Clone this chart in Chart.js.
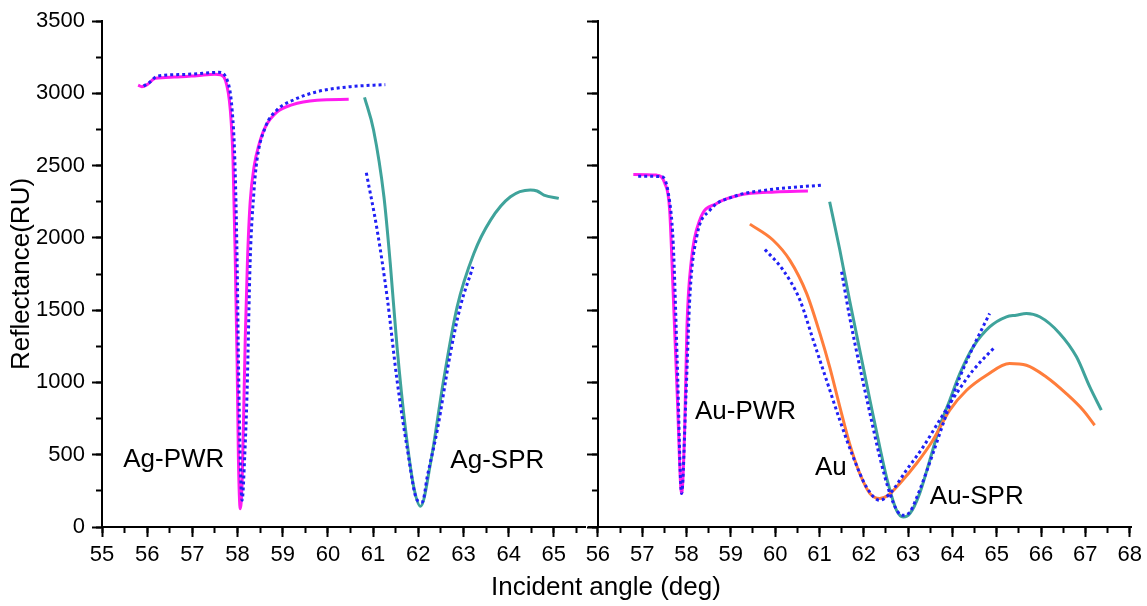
<!DOCTYPE html>
<html>
<head>
<meta charset="utf-8">
<script src="https://cdn.jsdelivr.net/npm/chart.js@4.4.1/dist/chart.umd.min.js"></script>
<style>
  body { margin: 0; background: #fff; width: 1147px; height: 606px; position: relative; overflow: hidden; font-family: "Liberation Sans", Arial, sans-serif; }
  #leftChart { position: absolute; left: 0; top: 0; }
  #rightChart { position: absolute; left: 580px; top: 0; }
  #xTitle { position: absolute; left: 406px; top: 574px; width: 400px; text-align: center; font-size: 26px; line-height: 25px; color: #000; }
</style>
</head>
<body>
<canvas id="leftChart" width="590" height="606"></canvas>
<canvas id="rightChart" width="567" height="606"></canvas>
<div id="xTitle">Incident angle (deg)</div>
<script>
// ---- Ag panel (left) ----
const agPwrX = [55.80, 55.88, 56.00, 56.18, 56.6, 57.1, 57.5, 57.62, 57.73, 57.84, 57.90, 57.95, 57.99, 58.02, 58.06, 58.10, 58.13, 58.17, 58.22, 58.28, 58.37, 58.47, 58.62, 58.87, 59.2, 59.76, 60.46];
const agPwrY = [3057, 3046, 3060, 3104, 3112, 3122, 3132, 3128, 3092, 2884, 2538, 1846, 1154, 462, 127, 300, 700, 1300, 1846, 2250, 2500, 2640, 2770, 2870, 2920, 2952, 2958];
const agPwrFitX = [55.92, 56.05, 56.22, 56.8, 57.3, 57.58, 57.77, 57.88, 57.94, 57.99, 58.02, 58.06, 58.10, 58.16, 58.21, 58.28, 58.36, 58.43, 58.62, 58.87, 59.24, 59.76, 60.50, 61.27];
const agPwrFitY = [3050, 3075, 3118, 3130, 3140, 3145, 3092, 2884, 2538, 1846, 1154, 462, 185, 500, 925, 1846, 2308, 2538, 2769, 2884, 2954, 3011, 3046, 3060];
const agSprX = [60.81, 61.01, 61.24, 61.38, 61.53, 61.72, 61.90, 62.05, 62.27, 62.56, 62.86, 63.23, 63.60, 64.04, 64.48, 64.63, 64.78, 65.11];
const agSprY = [2972, 2746, 2284, 1823, 1246, 669, 277, 143, 439, 1015, 1523, 1892, 2123, 2284, 2331, 2324, 2296, 2273];
const agSprFitX = [60.85, 61.09, 61.31, 61.53, 61.75, 61.98, 62.09, 62.20, 62.42, 62.71, 62.93, 63.21];
const agSprFitY = [2450, 2054, 1592, 1015, 554, 185, 173, 350, 669, 1200, 1523, 1800];

// ---- Au panel (right) ----
const auPwrX = [56.80, 57.32, 57.51, 57.62, 57.70, 57.79, 57.89, 57.96, 58.01, 58.11, 58.30, 58.68, 59.20, 60.0, 60.74];
const auPwrY = [2439, 2434, 2377, 2192, 1616, 923, 231, 692, 1384, 1846, 2123, 2238, 2296, 2318, 2324];
const auPwrFitX = [56.91, 57.44, 57.59, 57.70, 57.79, 57.89, 57.99, 58.08, 58.23, 58.53, 59.05, 59.81, 61.05];
const auPwrFitY = [2427, 2423, 2308, 1962, 1154, 231, 923, 1616, 2007, 2192, 2284, 2331, 2365];
const auX = [59.43, 59.95, 60.33, 60.71, 61.01, 61.23, 61.46, 61.68, 61.91, 62.14, 62.36, 62.55, 62.81, 63.19, 63.56, 63.94, 64.32, 64.77, 65.29, 65.67, 66.12, 66.57, 66.95, 67.21];
const auY = [2095, 1985, 1846, 1616, 1339, 1108, 831, 577, 370, 231, 197, 219, 300, 439, 600, 808, 946, 1050, 1131, 1119, 1038, 923, 808, 704];
const auFitX = [59.77, 60.18, 60.56, 60.86, 61.16, 61.46, 61.76, 62.06, 62.36, 62.59, 62.96, 63.34, 63.71, 64.09, 64.47, 64.96];
const auFitY = [1920, 1777, 1569, 1292, 1015, 738, 485, 277, 185, 231, 392, 554, 738, 923, 1085, 1246];
const auSprX = [61.23, 61.46, 61.68, 61.91, 62.14, 62.36, 62.55, 62.74, 62.89, 63.04, 63.26, 63.49, 63.71, 63.94, 64.17, 64.47, 64.84, 65.22, 65.44, 65.67, 65.97, 66.42, 66.80, 67.10, 67.36];
const auSprY = [2250, 1916, 1569, 1223, 877, 554, 300, 115, 69, 92, 231, 462, 692, 877, 1062, 1246, 1384, 1454, 1465, 1477, 1454, 1339, 1177, 969, 808];
const auSprFitX = [61.50, 61.68, 61.91, 62.14, 62.36, 62.59, 62.77, 62.89, 63.04, 63.26, 63.56, 63.87, 64.17, 64.47, 64.84];
const auSprFitY = [1765, 1454, 1108, 785, 485, 231, 104, 81, 104, 254, 508, 785, 1038, 1246, 1477];

// curve labels (text, angle, reflectance at baseline)
const agLabels = [
    {text: "Ag-PWR", x: 55.47, y: 413},
    {text: "Ag-SPR", x: 62.71, y: 406}
];
const auLabels = [
    {text: "Au-PWR", x: 58.19, y: 750},
    {text: "Au", x: 60.90, y: 358},
    {text: "Au-SPR", x: 63.49, y: 162}
];

const FONT = '"Liberation Sans", Arial, sans-serif';
Chart.defaults.color = '#000';
Chart.defaults.font.family = FONT;

const MAGENTA = '#ff1cf0';
const BLUE = '#2020f5';
const TEAL = '#3fa39b';
const ORANGE = '#ff7d3b';

function pts(xs, ys){
    let out = [];
    for (let i = 0; i < xs.length; i++) {
        out.push({x: xs[i], y: ys[i]});
    }
    return out;
}

function solid(data, color){
    return {data: data, borderColor: color, borderWidth: 3, pointRadius: 0,
        cubicInterpolationMode: 'monotone', order: 2, xAxisID: 'x', yAxisID: 'y'};
}
function dotted(data){
    return {data: data, borderColor: BLUE, borderWidth: 3, borderDash: [3, 3], pointRadius: 0,
        cubicInterpolationMode: 'monotone', order: 1, xAxisID: 'x', yAxisID: 'y'};
}

// draws curve names at data coordinates
const curveLabels = {
    id: 'curveLabels',
    afterDatasetsDraw(chart, args, opts){
        const ctx = chart.ctx;
        ctx.save();
        ctx.font = '26px ' + FONT;
        ctx.fillStyle = '#000';
        ctx.textAlign = 'left';
        ctx.textBaseline = 'alphabetic';
        for (const l of opts.items) {
            ctx.fillText(l.text, chart.scales.x.getPixelForValue(l.x), chart.scales.y.getPixelForValue(l.y));
        }
        ctx.restore();
    }
};

function axisX(min, max){
    return {
        type: 'linear', position: 'bottom', min: min, max: max,
        ticks: {stepSize: 1, includeBounds: false, padding: 5, font: {size: 22}, autoSkip: false, maxRotation: 0,
            callback: v => String(v)},
        grid: {drawOnChartArea: false, tickLength: 10, tickWidth: 2, tickColor: '#000'},
        border: {display: true, color: '#000', width: 2},
        afterFit(scale){ scale.height = 79; }
    };
}
function minorX(min, max){
    return {
        type: 'linear', axis: 'x', position: {y: 0}, min: min, max: max,
        ticks: {stepSize: 0.5, includeBounds: false, display: false},
        grid: {drawOnChartArea: false, tickLength: 6, tickWidth: 2, tickColor: '#000'},
        border: {display: false}
    };
}
function minorY(at){
    return {
        type: 'linear', axis: 'y', position: at, min: 0, max: 3500,
        ticks: {stepSize: 250, includeBounds: false, display: false},
        grid: {drawOnChartArea: false, tickLength: 6, tickWidth: 2, tickColor: '#000'},
        border: {display: false}
    };
}

let leftChart = new Chart(document.getElementById("leftChart"), {
    type: 'line',
    data: {
        datasets: [
            dotted(pts(agPwrFitX, agPwrFitY)),
            dotted(pts(agSprFitX, agSprFitY)),
            solid(pts(agPwrX, agPwrY), MAGENTA),
            solid(pts(agSprX, agSprY), TEAL)
        ]
    },
    options: {
        responsive: false,
        animation: false,
        layout: {padding: {top: 21, right: 5, left: 0, bottom: 0}},
        scales: {
            x: axisX(55, 65.69),
            y: {
                type: 'linear', position: 'left', min: 0, max: 3500,
                ticks: {stepSize: 500, padding: 7, font: {size: 22}, callback: v => String(v)},
                grid: {drawOnChartArea: false, tickLength: 10, tickWidth: 2, tickColor: '#000'},
                border: {display: true, color: '#000', width: 2},
                title: {display: true, text: 'Reflectance(RU)', font: {size: 26}, padding: {top: 6, bottom: 0}},
                afterFit(scale){ scale.width = 102; }
            },
            xm: minorX(55, 65.69),
            ym: minorY({x: 55})
        },
        plugins: {
            legend: {display: false},
            tooltip: {enabled: false},
            curveLabels: {items: agLabels}
        }
    },
    plugins: [curveLabels]
});

let rightChart = new Chart(document.getElementById("rightChart"), {
    type: 'line',
    data: {
        datasets: [
            dotted(pts(auPwrFitX, auPwrFitY)),
            dotted(pts(auFitX, auFitY)),
            dotted(pts(auSprFitX, auSprFitY)),
            solid(pts(auPwrX, auPwrY), MAGENTA),
            solid(pts(auX, auY), ORANGE),
            solid(pts(auSprX, auSprY), TEAL)
        ]
    },
    options: {
        responsive: false,
        animation: false,
        layout: {padding: {top: 21, right: 16, left: 9, bottom: 0}},
        scales: {
            x: axisX(55.8, 68.03),
            y: {
                type: 'linear', axis: 'y', position: {x: 56}, min: 0, max: 3500,
                ticks: {stepSize: 500, display: false},
                grid: {drawOnChartArea: false, tickLength: 10, tickWidth: 2, tickColor: '#000'},
                border: {display: true, color: '#000', width: 2}
            },
            xm: minorX(55.8, 68.03),
            ym: minorY({x: 56})
        },
        plugins: {
            legend: {display: false},
            tooltip: {enabled: false},
            curveLabels: {items: auLabels}
        }
    },
    plugins: [curveLabels]
});
</script>
</body>
</html>
